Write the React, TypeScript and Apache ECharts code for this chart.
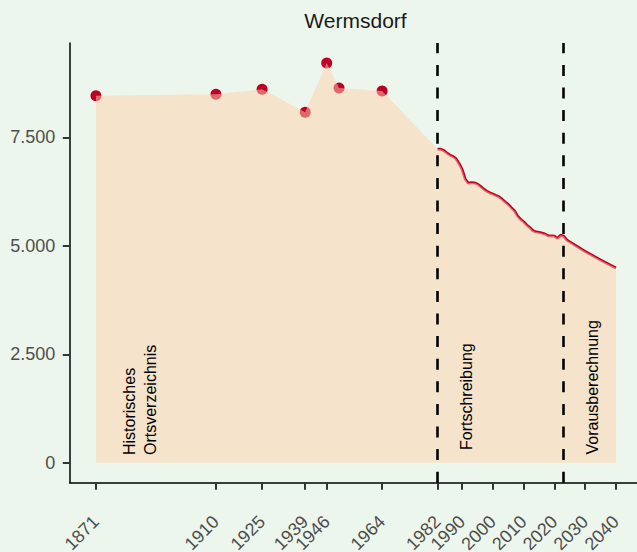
import React, { useEffect, useRef } from 'react';
import * as echarts from 'echarts';

const title = 'Wermsdorf';
const histYears = [1871, 1910, 1925, 1939, 1946, 1950, 1964];
const histValues = [8460, 8493, 8608, 8077, 9215, 8638, 8569];
const fortYears = [1982, 1983, 1984, 1985, 1986, 1987, 1988, 1989, 1990, 1991, 1992, 1993, 1994, 1995, 1996, 1997, 1998, 1999, 2000, 2001, 2002, 2003, 2004, 2005, 2006, 2007, 2008, 2009, 2010, 2011, 2012, 2013, 2014, 2015, 2016, 2017, 2018, 2019, 2020, 2021, 2022];
const fortValues = [7231, 7228, 7200, 7145, 7095, 7060, 7010, 6900, 6760, 6540, 6445, 6455, 6450, 6425, 6370, 6310, 6260, 6222, 6195, 6160, 6130, 6075, 6010, 5955, 5880, 5810, 5690, 5610, 5555, 5480, 5420, 5350, 5320, 5308, 5292, 5270, 5232, 5230, 5225, 5172, 5245];
const projYears = [2023, 2024, 2025, 2030, 2035, 2040];
const projValues = [5225, 5135, 5090, 4870, 4675, 4491];
const xTicks = [1871, 1910, 1925, 1939, 1946, 1964, 1982, 1990, 2000, 2010, 2020, 2030, 2040];
const yTicks = [0, 2500, 5000, 7500];
const phaseBreaks = [1982, 2023];
const phaseLabels = ['Historisches', 'Ortsverzeichnis', 'Fortschreibung', 'Vorausberechnung'];

const FONT = 'Liberation Sans, Arial, Helvetica, sans-serif';

export default function App() {
  const ref = useRef<HTMLDivElement>(null);
  useEffect(() => {
    if (!ref.current) return;
    const chart = echarts.init(ref.current, null, { renderer: 'svg' });
    const hist = histYears.map((y, i) => [y, histValues[i]]);
    const line = [...fortYears, ...projYears].map((y, i) => [y, [...fortValues, ...projValues][i]]);
    const all = [...hist, ...line];
    const red = '#BE0026';
    const annot = (text: string, x: number, y: number) => ({
      type: 'text', x, y, rotation: Math.PI / 2, z: 100,
      style: { text, fill: '#000', font: `16px ${FONT}`, textAlign: 'left', textVerticalAlign: 'middle' },
    });
    chart.setOption({
      animation: false,
      backgroundColor: '#EDF6EC',
      grid: { left: 69.8, right: 0.9, top: 43, bottom: 69.3, containLabel: false, outerBoundsMode: 'none' },
      xAxis: {
        type: 'value', min: 1862.5, max: 2048.5,
        axisLine: { show: true, onZero: false, lineStyle: { color: '#000', width: 1.5 } },
        axisTick: { show: true, length: 7, customValues: xTicks, lineStyle: { color: '#333', width: 2 } },
        axisLabel: { customValues: xTicks, rotate: 45, margin: 36, fontSize: 18, color: '#4D4D4D', fontFamily: FONT, formatter: (v: number) => String(v) },
        splitLine: { show: false },
      },
      yAxis: {
        type: 'value', min: -461, max: 9676,
        axisLine: { show: true, onZero: false, lineStyle: { color: '#000', width: 1.5 } },
        axisTick: { show: true, length: 7, customValues: yTicks, lineStyle: { color: '#333', width: 2 } },
        axisLabel: { customValues: yTicks, margin: 14.5, fontSize: 18, color: '#4D4D4D', fontFamily: FONT,
          formatter: (v: number) => String(v).replace(/\B(?=(\d{3})+(?!\d))/g, '.') },
        splitLine: { show: false },
      },
      graphic: [
        { type: 'text', x: 355.5, y: 20.4, z: 100, style: { text: title, fill: '#1A1A1A', font: `21px ${FONT}`, textAlign: 'center', textVerticalAlign: 'middle' } },
        annot(phaseLabels[0], 129.5, 455),
        annot(phaseLabels[1], 150.2, 455),
        annot(phaseLabels[2], 466.2, 450),
        annot(phaseLabels[3], 592.2, 454.5),
      ],
      series: [
        { type: 'scatter', data: hist, symbolSize: 11, itemStyle: { color: red, opacity: 1 }, z: 2 },
        { type: 'line', data: line, showSymbol: false, lineStyle: { color: red, width: 2.8 }, z: 2 },
        { type: 'line', data: all, showSymbol: false, lineStyle: { width: 0 }, areaStyle: { color: 'rgba(255,208,170,0.5)', origin: 0, opacity: 1 }, z: 3 },
        {
          type: 'line', data: [], z: 10,
          markLine: {
            silent: true, symbol: ['none', 'none'], label: { show: false },
            lineStyle: { color: '#000', width: 2.6, type: [11, 11.6] },
            data: phaseBreaks.map((x) => ({ xAxis: x })),
          },
        },
      ],
    });
    return () => chart.dispose();
  }, []);
  return <div ref={ref} style={{ position: 'fixed', left: 0, top: 0, width: 643, height: 552 }} />;
}
